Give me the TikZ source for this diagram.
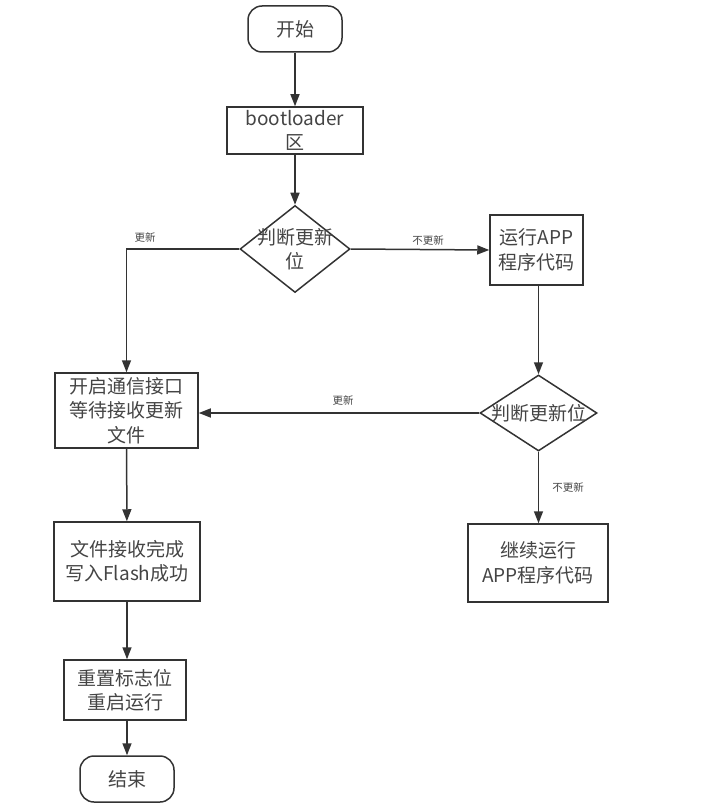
\documentclass[tikz,border=0pt]{standalone}
\usepackage{fontspec}
\setmainfont{Noto Sans CJK SC}
\usetikzlibrary{shapes.geometric,arrows.meta}
\definecolor{ln}{HTML}{333333}
\definecolor{tx}{HTML}{444444}
\tikzset{
  base/.style={draw=ln, line width=1.5pt, text=tx, font=\fontsize{19}{24.5}\selectfont, align=center, inner sep=0pt},
  box/.style={base, rectangle},
  term/.style={base, rectangle, rounded corners=14pt},
  dia/.style={draw=ln, line width=1.5pt, diamond, inner sep=0pt},
  dtext/.style={text=tx, font=\fontsize{19}{24.5}\selectfont, align=center, inner sep=0pt},
  lbl/.style={text=tx, font=\fontsize{10.5}{12}\selectfont, inner sep=1pt},
  arr/.style={draw=ln, line width=1.5pt, -{Triangle[length=12pt,width=9pt]}}
}
\begin{document}
\begin{tikzpicture}[x=1pt,y=-1pt]
\useasboundingbox (0,0) rectangle (725,810);
\node[term, minimum width=94pt, minimum height=46pt] (start) at (295,29) {开始};
\node[box, minimum width=136pt, minimum height=47pt] (boot) at (295,130.5) {bootloader\\区};
\node[dia, minimum width=110pt, minimum height=87pt] (d1) at (295,249) {};
\node[dtext] (d1t) at (295,249) {判断更新\\位};
\node[box, minimum width=93pt, minimum height=70pt] (app) at (536.5,250) {运行APP\\程序代码};
\node[dia, minimum width=117pt, minimum height=76pt] (d2) at (538.5,413) {};
\node[dtext] (d2t) at (538.5,413) {判断更新位};
\node[box, minimum width=143pt, minimum height=75pt] (recv) at (126.5,410.5) {开启通信接口\\等待接收更新\\文件};
\node[box, minimum width=146pt, minimum height=79pt] (done) at (127,561.5) {文件接收完成\\写入Flash成功};
\node[box, minimum width=122pt, minimum height=60pt] (reset) at (125,690) {重置标志位\\重启运行};
\node[term, minimum width=94pt, minimum height=46pt] (end) at (127,779) {结束};
\node[box, minimum width=140pt, minimum height=78pt] (cont) at (538,563) {继续运行\\APP程序代码};

\draw[arr] (start) -- (boot);
\draw[arr] (boot) -- (d1.north);
\draw[arr] (d1.west) -| (recv.north);
\node[lbl] (l1) at (145,237) {更新};
\draw[arr] (d1.east) -- (app.west);
\node[lbl] (l2) at (428,240) {不更新};
\draw[arr] (app.south -| d2.north) -- (d2.north);
\draw[arr] (d2.west) -- (recv.east |- d2.west);
\node[lbl] (l3) at (343,400) {更新};
\draw[arr] (d2.south) -- (cont.north -| d2.south);
\node[lbl] (l4) at (568,487) {不更新};
\draw[arr] (recv) -- (done);
\draw[arr] (done.south) -- (reset.north -| done.south);
\draw[arr] (reset.south -| end.north) -- (end.north);
\end{tikzpicture}
\end{document}
